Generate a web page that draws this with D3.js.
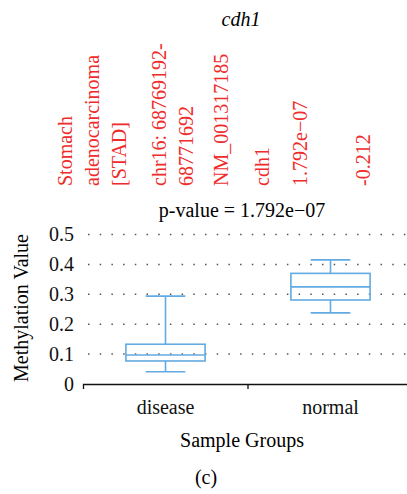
<!DOCTYPE html>
<html lang="en">
<head>
    <meta charset="UTF-8">
    <title>cdh1 methylation</title>
    <script src="https://cdnjs.cloudflare.com/ajax/libs/d3/7.8.5/d3.min.js"></script>
    <style>
        body { margin: 0; background: #fff; }
        svg { display: block; }
        svg text { font-family: "Liberation Serif", "DejaVu Serif", serif !important; }
        .info text { fill: #ee2c2c; font-size: 20px; }
        .grid line { stroke: #555; stroke-width: 1.5; stroke-dasharray: 1.5 10.2; }
        .box { fill: none; stroke: #62aae2; stroke-width: 1.6; }
    </style>
</head>
<body>
    <svg width="407" height="494"></svg>

    <script>
        // data
        const geneName = "cdh1";
        const pValueText = "p-value = 1.792e\u221207";
        const infoColumns = [
            ["Stomach", "adenocarcinoma", "[STAD]"],
            ["chr16: 68769192-", "68771692"],
            ["NM_001317185"],
            ["cdh1"],
            ["1.792e\u221207"],
            ["-0.212"]
        ];
        const groups = ["disease", "normal"];
        const whiskerLow = [0.041, 0.238];
        const q1 = [0.077, 0.281];
        const medians = [0.097, 0.325];
        const q3 = [0.133, 0.370];
        const whiskerHigh = [0.294, 0.415];
        const yTicks = [0, 0.1, 0.2, 0.3, 0.4, 0.5];

        // layout
        const infoColX = [72, 166, 228, 269, 307, 370];
        const infoLineH = 27;
        const infoBottom = 186;

        let svg = d3.select("svg");

        let x = d3.scaleBand().domain(groups).range([83, 413]).padding(0);
        let y = d3.scaleLinear().domain([0, 0.5]).range([384, 234.5]);

        // title
        svg.append("text")
            .attr("x", 241).attr("y", 26)
            .attr("text-anchor", "middle")
            .style("font-style", "italic").style("font-size", "20px")
            .text(geneName);

        // red info columns, rotated
        let info = svg.append("g").attr("class", "info");
        infoColumns.forEach((lines, ci) => {
            lines.forEach((t, li) => {
                let bx = infoColX[ci] + li * infoLineH;
                info.append("text")
                    .attr("transform", `translate(${bx},${infoBottom}) rotate(-90)`)
                    .text(t);
            });
        });

        // p-value
        svg.append("text")
            .attr("x", 242).attr("y", 217)
            .attr("text-anchor", "middle").style("font-size", "20px")
            .text(pValueText);

        // dotted grid
        svg.append("g").attr("class", "grid")
            .selectAll("line")
            .data(yTicks.filter(d => d > 0))
            .enter().append("line")
            .attr("x1", 88).attr("x2", 407)
            .attr("y1", d => y(d)).attr("y2", d => y(d));

        // y axis labels
        let yAxis = svg.append("g")
            .attr("transform", "translate(83,0)")
            .call(d3.axisLeft(y).tickValues(yTicks).tickSize(0).tickPadding(9)
                .tickFormat(d => d === 0 ? "0" : d3.format(".1f")(d)))
            .attr("font-size", 20);
        yAxis.select(".domain").remove();
        yAxis.selectAll("text").attr("fill", "#111");

        // x axis
        let xAxis = svg.append("g")
            .attr("transform", `translate(0,${y(0)})`)
            .call(d3.axisBottom(x).tickSizeInner(0).tickSizeOuter(5).tickPadding(16))
            .attr("font-size", 20);
        xAxis.select(".domain").attr("stroke", "#111").attr("stroke-width", 1.3);
        xAxis.selectAll("text").attr("fill", "#111");
        xAxis.append("line")
            .attr("x1", x("normal")).attr("x2", x("normal"))
            .attr("y1", 0).attr("y2", 5)
            .attr("stroke", "#111").attr("stroke-width", 1.3);

        // boxes
        let boxW = x.bandwidth() * 0.48;
        let capW = x.bandwidth() * 0.24;
        let bx = svg.append("g").attr("class", "box");
        groups.forEach((g, i) => {
            let cx = x(g) + x.bandwidth() / 2;
            bx.append("line").attr("x1", cx).attr("x2", cx).attr("y1", y(whiskerHigh[i])).attr("y2", y(q3[i]));
            bx.append("line").attr("x1", cx).attr("x2", cx).attr("y1", y(q1[i])).attr("y2", y(whiskerLow[i]));
            bx.append("line").attr("x1", cx - capW / 2).attr("x2", cx + capW / 2).attr("y1", y(whiskerHigh[i])).attr("y2", y(whiskerHigh[i]));
            bx.append("line").attr("x1", cx - capW / 2).attr("x2", cx + capW / 2).attr("y1", y(whiskerLow[i])).attr("y2", y(whiskerLow[i]));
            bx.append("rect").attr("x", cx - boxW / 2).attr("width", boxW)
                .attr("y", y(q3[i])).attr("height", y(q1[i]) - y(q3[i]));
            bx.append("line").attr("x1", cx - boxW / 2).attr("x2", cx + boxW / 2).attr("y1", y(medians[i])).attr("y2", y(medians[i]));
        });

        // axis titles
        svg.append("text")
            .attr("transform", "translate(28,308) rotate(-90)")
            .attr("text-anchor", "middle").style("font-size", "20px")
            .text("Methylation Value");
        svg.append("text")
            .attr("x", 242).attr("y", 447)
            .attr("text-anchor", "middle").style("font-size", "20px")
            .text("Sample Groups");
        svg.append("text")
            .attr("x", 206).attr("y", 484)
            .attr("text-anchor", "middle").style("font-size", "20px")
            .text("(c)");
    </script>
</body>
</html>
